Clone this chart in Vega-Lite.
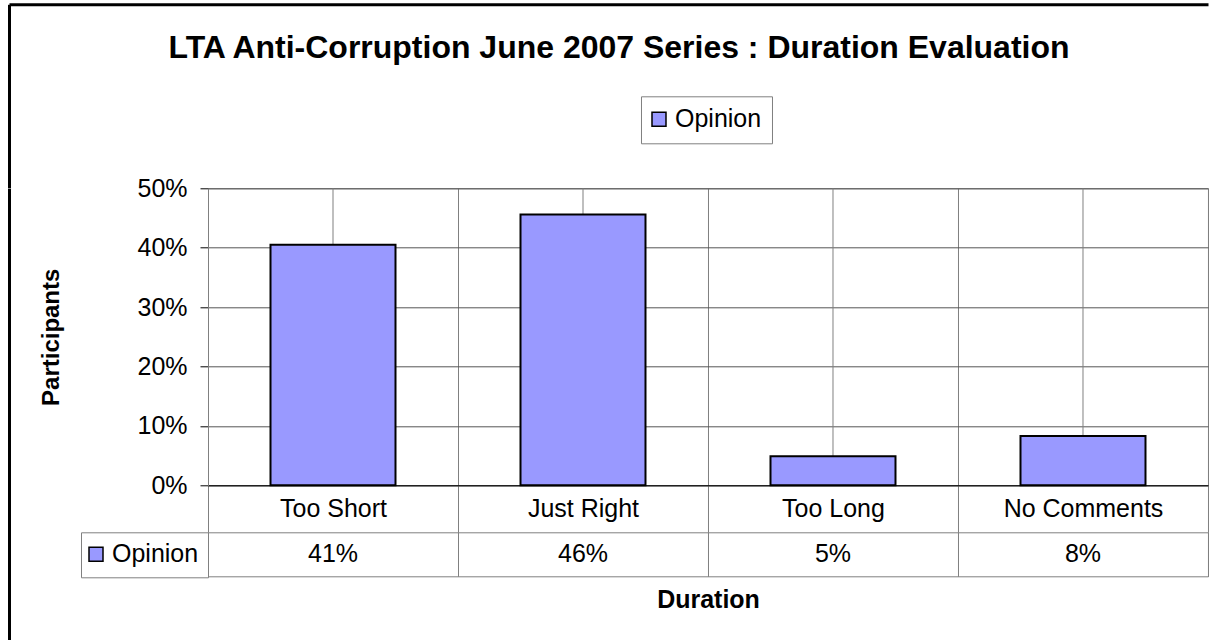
{
  "$schema": "https://vega.github.io/schema/vega-lite/v6.json",
  "padding": {"left": 9, "top": 4.3, "right": 0, "bottom": 0},
  "background": "white",
  "data": {
    "values": [
      {"Duration": "Too Short", "Series": "Opinion", "Share": 0.405},
      {"Duration": "Just Right", "Series": "Opinion", "Share": 0.456},
      {"Duration": "Too Long", "Series": "Opinion", "Share": 0.049},
      {"Duration": "No Comments", "Series": "Opinion", "Share": 0.083}
    ]
  },
  "bounds": "flush",
  "spacing": 0,
  "vconcat": [
    {
      "width": 1199,
      "height": 183.5,
      "data": {"values": []},
      "view": {"stroke": null},
      "mark": "point",
      "encoding": {
        "x": {
          "field": "a",
          "type": "quantitative",
          "scale": {"domain": [0, 1]},
          "axis": {"orient": "top", "title": null, "labels": false, "ticks": false, "grid": false, "domainColor": "black", "domainWidth": 3}
        },
        "y": {
          "field": "b",
          "type": "quantitative",
          "scale": {"domain": [0, 1]},
          "axis": {"orient": "left", "title": null, "labels": false, "ticks": false, "grid": false, "domainColor": "black", "domainWidth": 3}
        }
      }
    },
    {
      "bounds": "flush",
      "spacing": 198,
      "hconcat": [
        {
          "width": 1,
          "height": 451.5,
          "data": {"values": []},
          "view": {"stroke": null},
          "mark": "point",
          "encoding": {
            "y": {
              "field": "b",
              "type": "quantitative",
              "scale": {"domain": [0, 1]},
              "axis": {"orient": "left", "title": null, "labels": false, "ticks": false, "grid": false, "domainColor": "black", "domainWidth": 3}
            }
          }
        },
        {
          "spacing": 47,
          "bounds": "flush",
          "resolve": {"legend": {"color": "independent"}},
          "vconcat": [
            {
              "width": 1000,
              "height": 297,
              "title": {
                "text": "LTA Anti-Corruption June 2007 Series : Duration Evaluation",
                "fontSize": 32,
                "font": "Liberation Sans",
                "fontWeight": "bold",
                "color": "black",
                "anchor": "middle",
                "dx": -89,
                "offset": 31
              },
              "encoding": {
                "x": {
                  "field": "Duration",
                  "type": "nominal",
                  "sort": null,
                  "scale": {"paddingInner": 0, "paddingOuter": 0},
                  "axis": {
                    "title": null,
                    "orient": "bottom",
                    "tickBand": "extent",
                    "grid": true,
                    "gridColor": "#808080",
                    "ticks": true,
                    "tickSize": 47,
                    "tickColor": "#808080",
                    "domain": true,
                    "domainColor": "black",
                    "labelFontSize": 25,
                    "labelColor": "black",
                    "labelPadding": -36,
                    "labelAngle": 0
                  }
                }
              },
              "layer": [
                {
                  "mark": {"type": "rule", "color": "#808080", "strokeWidth": 1}
                },
                {
                  "mark": {"type": "bar", "stroke": "black", "strokeWidth": 2, "width": {"band": 0.5}},
                  "encoding": {
                    "y": {
                      "field": "Share",
                      "type": "quantitative",
                      "scale": {"domain": [0, 0.5], "nice": false},
                      "axis": {
                        "title": "Participants",
                        "values": [0, 0.1, 0.2, 0.3, 0.4, 0.5],
                        "format": ".0%",
                        "grid": true,
                        "gridColor": "#555555",
                        "tickSize": 8,
                        "tickColor": "black",
                        "domainColor": "#808080",
                        "labelFontSize": 25,
                        "labelColor": "black",
                        "labelPadding": 13,
                        "titleFontSize": 24,
                        "titleFontWeight": "bold",
                        "titleColor": "black",
                        "titlePadding": 73
                      }
                    },
                    "color": {
                      "field": "Series",
                      "type": "nominal",
                      "scale": {"range": ["#9999FF"]},
                      "legend": {
                        "orient": "none",
                        "legendX": 433,
                        "legendY": -92,
                        "title": null,
                        "padding": 10.5,
                        "strokeColor": "#808080",
                        "fillColor": "white",
                        "symbolType": "square",
                        "symbolSize": 196,
                        "symbolOffset": -5,
                        "symbolStrokeColor": "black",
                        "symbolStrokeWidth": 1.5,
                        "symbolOpacity": 1,
                        "labelFontSize": 25,
                        "labelOffset": 3.5,
                        "labelColor": "black"
                      }
                    }
                  }
                }
              ]
            },
            {
              "width": 1000,
              "height": 44,
              "encoding": {
                "x": {
                  "field": "Duration",
                  "type": "nominal",
                  "sort": null,
                  "scale": {"paddingInner": 0, "paddingOuter": 0},
                  "axis": {
                    "orient": "bottom",
                    "title": "Duration",
                    "titleFontSize": 25,
                    "titleFontWeight": "bold",
                    "titleColor": "black",
                    "titlePadding": 11,
                    "labels": false,
                    "ticks": false,
                    "domain": false,
                    "grid": true,
                    "gridColor": "#808080",
                    "tickBand": "extent"
                  }
                }
              },
              "layer": [
                {
                  "mark": {"type": "square", "opacity": 0, "size": 1},
                  "encoding": {
                    "color": {
                      "field": "Series",
                      "type": "nominal",
                      "scale": {"range": ["#9999FF"]},
                      "legend": {
                        "orient": "left",
                        "offset": 0,
                        "title": null,
                        "padding": 9.5,
                        "strokeColor": "#808080",
                        "fillColor": "white",
                        "symbolType": "square",
                        "symbolSize": 196,
                        "symbolOffset": -7,
                        "symbolOpacity": 1,
                        "symbolStrokeColor": "black",
                        "symbolStrokeWidth": 1.5,
                        "labelFontSize": 25,
                        "labelOffset": 3.5,
                        "labelColor": "black"
                      }
                    }
                  }
                },
                {
                  "mark": {"type": "text", "fontSize": 25, "font": "Liberation Sans", "color": "black"},
                  "encoding": {
                    "text": {"field": "Share", "type": "quantitative", "format": ".0%"}
                  }
                }
              ]
            }
          ]
        }
      ]
    }
  ],
  "config": {
    "font": "Liberation Sans",
    "view": {"stroke": "#808080", "strokeWidth": 1},
    "axis": {"labelFont": "Liberation Sans", "titleFont": "Liberation Sans"},
    "legend": {"labelFont": "Liberation Sans"}
  }
}
